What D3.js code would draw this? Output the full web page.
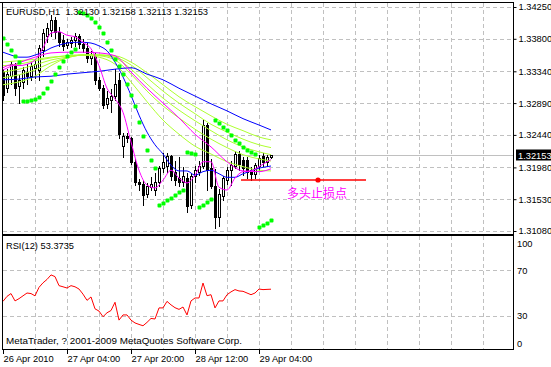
<!DOCTYPE html>
<html>
<head>
<meta charset="utf-8">
<script src="https://cdn.jsdelivr.net/npm/d3@7"></script>
<style>
  html, body { margin: 0; padding: 0; background: #fff; }
  svg { display: block; font-family: "Liberation Sans", Arial, sans-serif; font-size: 9px; }
</style>
</head>
<body>
<svg id="chart" width="551" height="367"></svg>
<script>
// ---- data ----
const title = "EURUSD,H1\u00a0\u00a01.32130 1.32158 1.32113 1.32153";
const rsiTitle = "RSI(12) 53.3735";
const copyright = "MetaTrader, ? 2001-2009 MetaQuotes Software Corp.";
const lastPrice = 1.32153;

const priceTicks = [1.34250, 1.33800, 1.33340, 1.32890, 1.32440, 1.31980, 1.31530, 1.31080];
const rsiTicks = [100, 70, 30, 0];
const rsiGrid = [70, 30];
const timeLabels = ["26 Apr 2010", "27 Apr 04:00", "27 Apr 20:00", "28 Apr 12:00", "29 Apr 04:00"];
const timeBars = [0, 16, 32, 48, 64];
const gridBars = [8, 16, 24, 32, 40, 48, 56, 64, 72, 80, 88, 96, 104, 112, 120];

const opens = [1.3333,1.3310,1.3327,1.3342,1.3313,1.3319,1.3333,1.3327,1.3339,1.3336,
  1.3364,1.3384,1.3392,1.3407,1.3390,1.3378,1.3371,1.3374,1.3378,1.3384,
  1.3373,1.3367,1.3353,1.3356,1.3322,1.3310,1.3288,1.3293,1.3299,1.3322,
  1.3228,1.3242,1.3240,1.3206,1.3177,1.3175,1.3160,1.3170,1.3166,1.3177,
  1.3197,1.3200,1.3214,1.3192,1.3183,1.3177,1.3183,1.3145,1.3186,1.3192,
  1.3200,1.3258,1.3197,1.3172,1.3128,1.3158,1.3180,1.3194,1.3200,1.3217,
  1.3209,1.3209,1.3194,1.3189,1.3200,1.3214,1.3206,1.32130];
const highs = [1.3339,1.3339,1.3350,1.3347,1.3330,1.3342,1.3346,1.3347,1.3353,1.3373,
  1.3395,1.3404,1.3415,1.3412,1.3398,1.3387,1.3381,1.3384,1.3390,1.3388,
  1.3381,1.3375,1.3364,1.3361,1.3327,1.3316,1.3308,1.3310,1.3339,1.3333,
  1.3248,1.3248,1.3242,1.3211,1.3183,1.3180,1.3177,1.3186,1.3192,1.3201,
  1.3220,1.3220,1.3217,1.3209,1.3214,1.3200,1.3192,1.3192,1.3201,1.3209,
  1.3268,1.3262,1.3211,1.3197,1.3169,1.3187,1.3200,1.3209,1.3223,1.3223,
  1.3214,1.3214,1.3200,1.3206,1.3217,1.3220,1.3217,1.32158];
const lows = [1.3293,1.3305,1.3316,1.3300,1.3289,1.3310,1.3316,1.3322,1.3325,1.3322,
  1.3356,1.3375,1.3384,1.3381,1.3370,1.3364,1.3367,1.3368,1.3370,1.3367,
  1.3361,1.3347,1.3344,1.3316,1.3308,1.3282,1.3282,1.3276,1.3293,1.3240,
  1.3213,1.3234,1.3203,1.3173,1.3166,1.3145,1.3156,1.3166,1.3159,1.3172,
  1.3192,1.3192,1.3180,1.3173,1.3172,1.3172,1.3135,1.3141,1.3177,1.3187,
  1.3197,1.3166,1.3169,1.3112,1.3115,1.3152,1.3175,1.3173,1.3197,1.3194,
  1.3187,1.3183,1.3180,1.3183,1.3194,1.3200,1.3200,1.32113];
const closes = [1.3300,1.3330,1.3344,1.3310,1.3322,1.3336,1.3327,1.3342,1.3344,1.3367,
  1.3388,1.3395,1.3407,1.3390,1.3375,1.3370,1.3375,1.3378,1.3384,1.3373,
  1.3367,1.3353,1.3357,1.3322,1.3310,1.3286,1.3296,1.3299,1.3316,1.3245,
  1.3242,1.3240,1.3206,1.3177,1.3175,1.3159,1.3172,1.3175,1.3177,1.3197,
  1.3206,1.3214,1.3186,1.3180,1.3177,1.3186,1.3144,1.3186,1.3194,1.3200,
  1.3258,1.3194,1.3172,1.3128,1.3160,1.3183,1.3194,1.3201,1.3217,1.3203,
  1.3197,1.3192,1.3189,1.3201,1.3211,1.3206,1.3213,1.32153];

// parabolic SAR, one dot per bar
const sar = [1.3381,1.3373,1.3364,1.3356,1.3347,1.3292,1.3292,1.3293,1.3295,1.3298,
  1.3303,1.3310,1.3320,1.3330,1.3340,1.3349,1.3356,1.3361,1.3365,1.3418,
  1.3417,1.3414,1.3409,1.3404,1.3397,1.3388,1.3375,1.3364,1.3351,1.3342,
  1.3330,1.3316,1.3300,1.3285,1.3262,1.3242,1.3223,1.3209,1.3197,1.3145,
  1.3148,1.3152,1.3155,1.3159,1.3163,1.3166,1.3220,1.3218,1.3217,1.3142,
  1.3145,1.3149,1.3153,1.3265,1.3261,1.3255,1.3251,1.3244,1.3237,1.3233,
  1.3227,1.3223,1.3220,1.3217,1.3114,1.3117,1.3119,1.3124];

const rsi = [42.6,47,49.5,43,45,47.5,50,49.5,47.5,55,
  59,62,66,64.5,56.5,55.5,54.4,56.5,55.5,53.5,
  49,43.5,46.5,36,34,29,32.5,34.5,41.8,26,
  30.6,30.6,26,23.5,22.2,21,24,27.5,27,36.8,
  36.8,42.6,39.5,37,35.5,37.6,30.6,43,45.6,45.6,
  58.8,47.6,48.5,36.8,43,43,48.5,51,53,51.8,
  51.5,50,48.5,50,53.5,53,53.2,53.3735];

// moving averages, read every 4 bars (slow) or every 2 bars (fast)
const slowBars = [0,4,8,12,16,20,24,28,32,36,40,44,48,52,56,60,64,67];
const halfBars = [0,2,4,6,8,10,12,14,16,18,20,22,24,26,28,30,32,34,36,38,40,42,44,46,48,50,52,54,56,58,60,62,64,66,67];

const blueSlow = [1.3322,1.3323,1.3326,1.3327,1.3330,1.3332,1.3334,1.3337,1.3339,1.3330,1.3322,1.3310,1.3299,1.3288,1.3278,1.3267,1.3258,1.3251];
const magentaSlow = [1.3336,1.3346,1.3354,1.3360,1.3361,1.3361,1.3360,1.3356,1.3333,1.3310,1.3289,1.3268,1.3245,1.3227,1.3206,1.3193,1.3192,1.3196];
const green1 = [1.3347,1.3349,1.3351,1.3354,1.3356,1.3357,1.3357,1.3356,1.3347,1.3332,1.3315,1.3298,1.3284,1.3271,1.3259,1.3250,1.3241,1.3237];
const green2 = [1.3342,1.3344,1.3349,1.3353,1.3356,1.3357,1.3357,1.3354,1.3343,1.3325,1.3306,1.3289,1.3274,1.3259,1.3248,1.3238,1.3230,1.3226];
const green3 = [1.3333,1.3337,1.3343,1.3350,1.3354,1.3357,1.3357,1.3353,1.3337,1.3316,1.3296,1.3279,1.3264,1.3250,1.3237,1.3227,1.3220,1.3216];
const green4 = [1.3325,1.3329,1.3336,1.3346,1.3353,1.3357,1.3356,1.3350,1.3330,1.3306,1.3285,1.3268,1.3252,1.3238,1.3226,1.3216,1.3210,1.3207];
const green5 = [1.3315,1.3319,1.3327,1.3342,1.3353,1.3357,1.3354,1.3344,1.3319,1.3291,1.3265,1.3245,1.3228,1.3217,1.3206,1.3199,1.3194,1.3193];

const blueMid = [1.3361,1.3357,1.3354,1.3354,1.3357,1.3361,1.3367,1.3371,1.3374,1.3375,1.3375,1.3374,1.3370,1.3363,1.3347,1.3326,1.3300,1.3272,1.3248,1.3230,
  1.3217,1.3201,1.3193,1.3193,1.3187,1.3192,1.3194,1.3189,1.3184,1.3184,1.3189,1.3193,1.3197,1.3199,1.3200];
const magentaFast = [1.3339,1.3343,1.3342,1.3344,1.3350,1.3367,1.3388,1.3390,1.3385,1.3383,1.3375,1.3366,1.3342,1.3310,1.3295,1.3276,1.3234,1.3194,1.3173,1.3169,
  1.3180,1.3194,1.3183,1.3176,1.3187,1.3206,1.3206,1.3170,1.3166,1.3183,1.3192,1.3193,1.3199,1.3206,1.3209];

// stop-loss annotation
const stopLabel = "多头止损点";
const stopPrice = 1.31802;
const stopFrom = 59.5, stopTo = 90.75, stopMark = 78.75;

// ---- drawing ----
const svg = d3.select("#chart");
const L = 2.5, R = 513.5, T = 2.5, B = 234.5, RT = 235.5, RB = 349.5;

const x = d3.scaleLinear().domain([0, 1]).range([3, 7]);
const y = d3.scaleLinear().domain([1.31080, 1.34250]).range([231, 7]);
const yr = d3.scaleLinear().domain([0, 100]).range([RB, RT + 1]);
const px = i => Math.round(x(i)) + 0.5;
const py = v => Math.round(y(v)) + 0.5;

svg.append("defs").append("clipPath").attr("id", "clipMain")
  .append("rect").attr("x", L).attr("y", T).attr("width", R - L).attr("height", B - T);
svg.select("defs").append("clipPath").attr("id", "clipRsi")
  .append("rect").attr("x", L).attr("y", RT).attr("width", R - L).attr("height", RB - RT);

const grid = svg.append("g").attr("stroke", "#c0c0c0").attr("stroke-dasharray", "4,3").attr("shape-rendering", "crispEdges");
grid.selectAll(".hg").data(priceTicks).enter().append("line")
  .attr("x1", L).attr("x2", R).attr("y1", d => py(d)).attr("y2", d => py(d));
grid.selectAll(".rg").data(rsiGrid).enter().append("line")
  .attr("x1", L).attr("x2", R).attr("y1", d => Math.round(yr(d)) + 0.5).attr("y2", d => Math.round(yr(d)) + 0.5);
grid.selectAll(".vg").data(gridBars).enter().append("line")
  .attr("x1", d => px(d)).attr("x2", d => px(d)).attr("y1", T).attr("y2", B);
grid.selectAll(".vg2").data(gridBars).enter().append("line")
  .attr("x1", d => px(d)).attr("x2", d => px(d)).attr("y1", RT).attr("y2", RB);

// bid line
svg.append("line").attr("x1", L).attr("x2", R).attr("y1", py(lastPrice)).attr("y2", py(lastPrice))
  .attr("stroke", "#c0c0c0").attr("shape-rendering", "crispEdges");

const plot = svg.append("g").attr("clip-path", "url(#clipMain)");

// candles
const bars = opens.map((o, i) => ({ i, o, h: highs[i], l: lows[i], c: closes[i] }));
const cg = plot.append("g").attr("shape-rendering", "crispEdges");
cg.selectAll(".wick").data(bars).enter().append("line")
  .attr("x1", d => px(d.i)).attr("x2", d => px(d.i))
  .attr("y1", d => py(d.h)).attr("y2", d => py(d.l)).attr("stroke", "#000");
cg.selectAll(".body").data(bars).enter().append("rect")
  .attr("x", d => px(d.i) - 1)
  .attr("y", d => py(Math.max(d.o, d.c)))
  .attr("width", 2)
  .attr("height", d => Math.max(0, py(Math.min(d.o, d.c)) - py(Math.max(d.o, d.c))))
  .attr("fill", d => d.c >= d.o ? "#fff" : "#000")
  .attr("stroke", "#000");

// moving averages
const lineOf = (idx, vals) => idx.map((b, k) => ({ b, v: vals[k] }));
const line = d3.line().x(d => x(d.b)).y(d => y(d.v)).curve(d3.curveMonotoneX);
const maList = [
  { idx: slowBars, vals: green1, color: "#adff2f" },
  { idx: slowBars, vals: green2, color: "#adff2f" },
  { idx: slowBars, vals: green3, color: "#adff2f" },
  { idx: slowBars, vals: green4, color: "#adff2f" },
  { idx: slowBars, vals: green5, color: "#adff2f" },
  { idx: slowBars, vals: blueSlow, color: "#0000ff" },
  { idx: halfBars, vals: blueMid, color: "#0000ff" },
  { idx: slowBars, vals: magentaSlow, color: "#ff00ff" },
  { idx: halfBars, vals: magentaFast, color: "#ff00ff" }
];
plot.selectAll(".ma").data(maList).enter().append("path")
  .attr("d", d => line(lineOf(d.idx, d.vals)))
  .attr("fill", "none").attr("stroke", d => d.color).attr("stroke-width", 1);

// parabolic SAR
plot.selectAll(".sar").data(sar).enter().append("rect")
  .attr("x", (d, i) => Math.round(x(i)) - 1.5).attr("y", d => Math.round(y(d)) - 1.5)
  .attr("width", 4).attr("height", 4).attr("rx", 1).attr("fill", "#00ff00");

// stop-loss line
plot.append("line").attr("x1", x(stopFrom)).attr("x2", x(stopTo))
  .attr("y1", y(stopPrice)).attr("y2", y(stopPrice)).attr("stroke", "#ff0000").attr("stroke-width", 1.6);
plot.append("circle").attr("cx", x(stopMark)).attr("cy", y(stopPrice)).attr("r", 2.6).attr("fill", "#ff0000");
plot.append("text").attr("x", x(71)).attr("y", y(stopPrice) + 18)
  .attr("fill", "#ff00ff").attr("font-family", "'Noto Sans CJK SC', sans-serif").attr("font-size", 12)
  .text(stopLabel);

// RSI
svg.append("g").attr("clip-path", "url(#clipRsi)").append("path")
  .attr("d", d3.line().x((d, i) => x(i)).y(d => yr(d))(rsi))
  .attr("fill", "none").attr("stroke", "#ff0000").attr("stroke-width", 1);

// frames
const frame = svg.append("g").attr("fill", "none").attr("stroke", "#000").attr("shape-rendering", "crispEdges");
frame.append("rect").attr("x", L).attr("y", T).attr("width", R - L).attr("height", B - T);
frame.append("rect").attr("x", L).attr("y", RT).attr("width", R - L).attr("height", RB - RT);
frame.append("line").attr("x1", 0).attr("x2", R).attr("y1", 2).attr("y2", 2);

// price axis
const ay = svg.append("g").attr("transform", `translate(${R},0)`)
  .call(d3.axisRight(y).tickValues(priceTicks).tickSize(3).tickPadding(2).tickFormat(d3.format(".5f")));
ay.select(".domain").remove();
ay.selectAll("text").attr("font-family", "'Liberation Sans', Arial, sans-serif").attr("font-size", 9.3).attr("fill", "#000");

// last price box
svg.append("rect").attr("x", 516).attr("y", py(lastPrice) - 6).attr("width", 35).attr("height", 11).attr("fill", "#000");
svg.append("text").attr("x", 518).attr("y", py(lastPrice) + 3.5).attr("fill", "#fff").attr("font-size", 9.3).text(d3.format(".5f")(lastPrice));

// RSI axis
svg.selectAll(".rt").data(rsiTicks).enter().append("text")
  .attr("x", 517).attr("font-size", 9.3)
  .attr("y", d => d === 100 ? yr(d) + 10.5 : d === 0 ? yr(d) - 3 : yr(d) + 3.5)
  .text(d => d);

// time axis
svg.selectAll(".tt").data(timeBars).enter().append("line")
  .attr("x1", d => px(d)).attr("x2", d => px(d)).attr("y1", RB).attr("y2", RB + 4)
  .attr("stroke", "#000").attr("shape-rendering", "crispEdges");
svg.selectAll(".tl").data(timeBars).enter().append("text")
  .attr("x", d => px(d)).attr("y", 362).attr("font-size", 9.3).text((d, k) => timeLabels[k]);

// titles
svg.append("text").attr("x", 6).attr("y", 15).attr("font-size", 9.4).text(title);
svg.append("text").attr("x", 6).attr("y", 249).attr("font-size", 9.5)
  .attr("textLength", 68).attr("lengthAdjust", "spacingAndGlyphs").text(rsiTitle);
svg.append("text").attr("x", 6).attr("y", 344).attr("font-size", 9.5)
  .attr("textLength", 236).attr("lengthAdjust", "spacingAndGlyphs").text(copyright);
</script>
</body>
</html>
